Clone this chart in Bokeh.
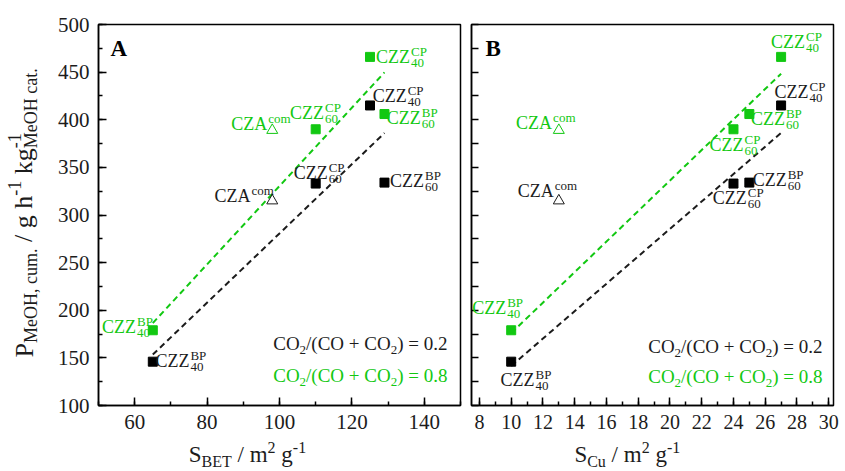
import numpy as np
from bokeh.plotting import figure
from bokeh.models import ColumnDataSource, Range1d, SingleIntervalTicker, LabelSet
from bokeh.layouts import row, column
from bokeh.core.properties import value
from bokeh.embed import file_html
from bokeh.resources import INLINE

# ---------------- data ----------------
sample_sup = ["BP", "CP", "CP", "BP"]
sample_sub = ["40", "60", "40", "60"]
s_bet = [65, 110, 125, 129]          # m2/g
s_cu = [10, 24, 27, 25]              # m2/g
p_ratio02 = [146, 333, 415, 334]     # CO2/(CO+CO2)=0.2
p_ratio08 = [179, 390, 466, 406]     # CO2/(CO+CO2)=0.8
cza_s_bet = [98]
cza_s_cu = [13]
cza_p02 = [315]
cza_p08 = [389]
ratio_values = ["0.2", "0.8"]

# ---------------- style ----------------
FONT = "Liberation Serif"
GREEN = "#12c812"
DARK = "#1c1c1c"
TOTAL_H = 470
PLOT_H = 435

# label offsets (junction x offset px, baseline y offset px downward) : 40BP, 60CP, 40CP, 60BP, CZA
LBL_OFF = {
    ("bet", "08"): [(-16.7, 3), (8.3, -10), (40, 6.6), (36.3, 10), (-5, 0)],
    ("bet", "02"): [(36.6, 5.7), (12, -5), (36.7, -3.6), (39.6, 4.7), (-21.7, 1)],
    ("cu", "08"): [(-5, -16.7), (10, 21.6), (24, -9), (35.6, 10.6), (-6.7, -1.7)],
    ("cu", "02"): [(23.3, 24), (13.3, 20.6), (27.4, -7.6), (37.3, 3.3), (-5, -3.3)],
}

W = {' ': 250, '(': 333, ')': 333, '+': 564, ',': 250, '-': 333, '.': 250, '/': 278,
     '=': 564, 'A': 722, 'B': 667, 'C': 667, 'E': 611, 'H': 722, 'M': 889, 'O': 722,
     'P': 556, 'S': 556, 'T': 611, 'Z': 611, 'a': 444, 'c': 444, 'e': 444, 'g': 500,
     'h': 500, 'k': 500, 'm': 778, 'o': 500, 't': 278, 'u': 500}


def tw(s, size):
    return sum(W.get(ch, 500) for ch in s) * size / 1000.0


def add_text(p, x, y, xo, yo, text, size, color, angle=0.0, style="normal", align="left"):
    src = ColumnDataSource(dict(x=[x], y=[y], t=[text]))
    p.add_layout(LabelSet(x="x", y="y", text="t", source=src, x_offset=xo, y_offset=yo,
                          angle=angle, text_font=value(FONT), text_font_size=f"{size}px",
                          text_font_style=style, text_color=color, text_align=align,
                          text_baseline="alphabetic"))


def rich(p, groups, x, y, xo, yo, size, small, color, angle=0.0,
         sub_shift=4, sup_shift=8, align="left"):
    total = 0
    for g in groups:
        total += max(tw(t, size if k == "n" else small) for t, k in g)
    along = 0 if align == "left" else -total
    for g in groups:
        adv = 0
        for t, k in g:
            fs = size if k == "n" else small
            perp = 0 if k == "n" else (-sub_shift if k == "sub" else sup_shift)
            lead = tw(t[: len(t) - len(t.lstrip(" "))], fs)
            a = along + lead
            if angle == 0:
                dx, dy = a, perp
            else:
                dx, dy = -perp, a
            add_text(p, x, y, xo + dx, yo + dy, t.strip(" "), fs, color, angle=angle)
            adv = max(adv, tw(t, fs))
        along += adv


def text_fig(width, height):
    f = figure(width=width, height=height, x_range=Range1d(0, width), y_range=Range1d(0, height),
               output_backend="svg", toolbar_location=None, x_axis_location=None, y_axis_location=None,
               min_border=0, title=None)
    f.grid.visible = False
    f.outline_line_color = None
    f.background_fill_color = "white"
    f.border_fill_color = "white"
    return f


def make_fig(xr, width, mbl, mbr, xint, ylabels):
    p = figure(width=width, height=PLOT_H, x_range=Range1d(*xr), y_range=Range1d(100, 500),
               output_backend="svg", toolbar_location=None, title=None,
               min_border_left=mbl, min_border_right=mbr, min_border_top=24, min_border_bottom=30)
    p.grid.visible = False
    p.outline_line_color = "black"
    p.outline_line_width = 1.5
    p.background_fill_color = "white"
    p.border_fill_color = "white"
    xa = p.xaxis[0]
    xa.ticker = SingleIntervalTicker(interval=xint, num_minor_ticks=2)
    ya = p.yaxis[0]
    if ylabels:
        ya.ticker = SingleIntervalTicker(interval=50, num_minor_ticks=2)
    else:
        ya.ticker = SingleIntervalTicker(interval=25, num_minor_ticks=0)
    for ax in (xa, ya):
        ax.axis_line_width = 1.5
        ax.axis_line_color = "black"
        ax.major_tick_line_width = 1.5
        ax.minor_tick_line_width = 1.5
        ax.major_tick_in = 8
        ax.major_tick_out = 0
        ax.minor_tick_in = 4
        ax.minor_tick_out = 0
        ax.major_label_text_font = FONT
        ax.major_label_text_color = DARK
        ax.major_label_standoff = 9
    xa.major_label_text_font_size = "21px" if ylabels else "20px"
    if ylabels:
        ya.major_label_text_font_size = "21px"
    else:
        ya.major_tick_in = 7
        ya.major_label_text_font_size = "1px"
        ya.major_label_text_color = None
        ya.major_label_standoff = 0
    return p


def draw_panel(p, key, xs, cza_x):
    series = (("02", p_ratio02, cza_p02, DARK), ("08", p_ratio08, cza_p08, GREEN))
    for ser, ys, cza_y, color in series:
        # linear fit through the CZZ samples
        k, b = np.polyfit(xs, ys, 1)
        fx = np.array([min(xs), max(xs)])
        p.line(fx, k * fx + b, line_dash="6 4", line_width=2, color=color)
    for ser, ys, cza_y, color in series:
        p.scatter(xs, ys, marker="square", size=9, color=color if ser == "08" else "black")
        p.scatter(cza_x, cza_y, marker="triangle", size=11, fill_alpha=0, line_color=color, line_width=1)
        offs = LBL_OFF[(key, ser)]
        n = len(xs)
        src = ColumnDataSource(dict(
            x=list(xs), y=list(ys),
            main=["CZZ"] * n, sup=list(sample_sup), sub=list(sample_sub),
            xo_main=[o[0] for o in offs[:n]],
            xo_small=[o[0] + 1 for o in offs[:n]],
            yo_main=[-o[1] for o in offs[:n]],
            yo_sup=[-(o[1] - 7) for o in offs[:n]],
            yo_sub=[-(o[1] + 4) for o in offs[:n]],
        ))
        src_cza = ColumnDataSource(dict(
            x=list(cza_x), y=list(cza_y), main=["CZA"], sup=["com"],
            xo_main=[offs[n][0]], xo_small=[offs[n][0] + 1],
            yo_main=[-offs[n][1]], yo_sup=[-(offs[n][1] - 7)],
        ))
        for s, has_sub in ((src, True), (src_cza, False)):
            common = dict(x="x", y="y", source=s, text_baseline="alphabetic",
                          text_font=value(FONT), text_color=color)
            p.add_layout(LabelSet(text="main", x_offset="xo_main", y_offset="yo_main",
                                  text_align="right", text_font_size="18px", **common))
            p.add_layout(LabelSet(text="sup", x_offset="xo_small", y_offset="yo_sup",
                                  text_align="left", text_font_size="13px", **common))
            if has_sub:
                p.add_layout(LabelSet(text="sub", x_offset="xo_small", y_offset="yo_sub",
                                      text_align="left", text_font_size="13px", **common))


XT_H = TOTAL_H - PLOT_H


def ratio_groups(val):
    return [[("CO", "n")], [("2", "sub")], [("/(CO + CO", "n")], [("2", "sub")], [(") = " + val, "n")]]


# ---------------- left panel ----------------
p1 = make_fig((50, 150), 417, 50, 5, 20, True)
draw_panel(p1, "bet", s_bet, cza_s_bet)
add_text(p1, 50, 500, 12, -31, "A", 23, "black", style="bold")
for txt_y, col, val in ((56, DARK, ratio_values[0]), (24, GREEN, ratio_values[1])):
    rich(p1, ratio_groups(val), 150, 100, -13, txt_y, 19, 13, col, align="right", sub_shift=4)

# x title (left)
xt1 = text_fig(417, XT_H)
rich(xt1, [[("S", "n")], [("BET", "sub")], [(" / m", "n")], [("2", "sup")], [(" g", "n")], [("-1", "sup")]],
     104, 9, 0, 0, 23, 16, DARK, sub_shift=5, sup_shift=9)

# y title
yt = text_fig(48, TOTAL_H)
rich(yt, [[("P", "n")], [("MeOH, cum.", "sub")], [(" / g h", "n")], [("-1", "sup")], [(" kg", "n")],
          [("-1", "sup"), ("MeOH cat.", "sub")]],
     32, TOTAL_H - 357, 0, 0, 26, 18, DARK, angle=np.pi / 2, sub_shift=5, sup_shift=11)

# ---------------- right panel ----------------
p2 = make_fig((7.5, 30.3), 380, 6, 12, 2, False)
draw_panel(p2, "cu", s_cu, cza_s_cu)
add_text(p2, 7.5, 500, 14, -31, "B", 23, "black", style="bold")
for txt_y, col, val in ((53, DARK, ratio_values[0]), (23, GREEN, ratio_values[1])):
    rich(p2, ratio_groups(val), 30.3, 100, -11, txt_y, 19, 13, col, align="right", sub_shift=4)

xt2 = text_fig(380, XT_H)
rich(xt2, [[("S", "n")], [("Cu", "sub")], [(" / m", "n")], [("2", "sup")], [(" g", "n")], [("-1", "sup")]],
     108, 9, 0, 0, 23, 16, DARK, sub_shift=5, sup_shift=9)

layout = row(yt, column(p1, xt1), column(p2, xt2))
open("out.html", "w").write(file_html(layout, INLINE))
